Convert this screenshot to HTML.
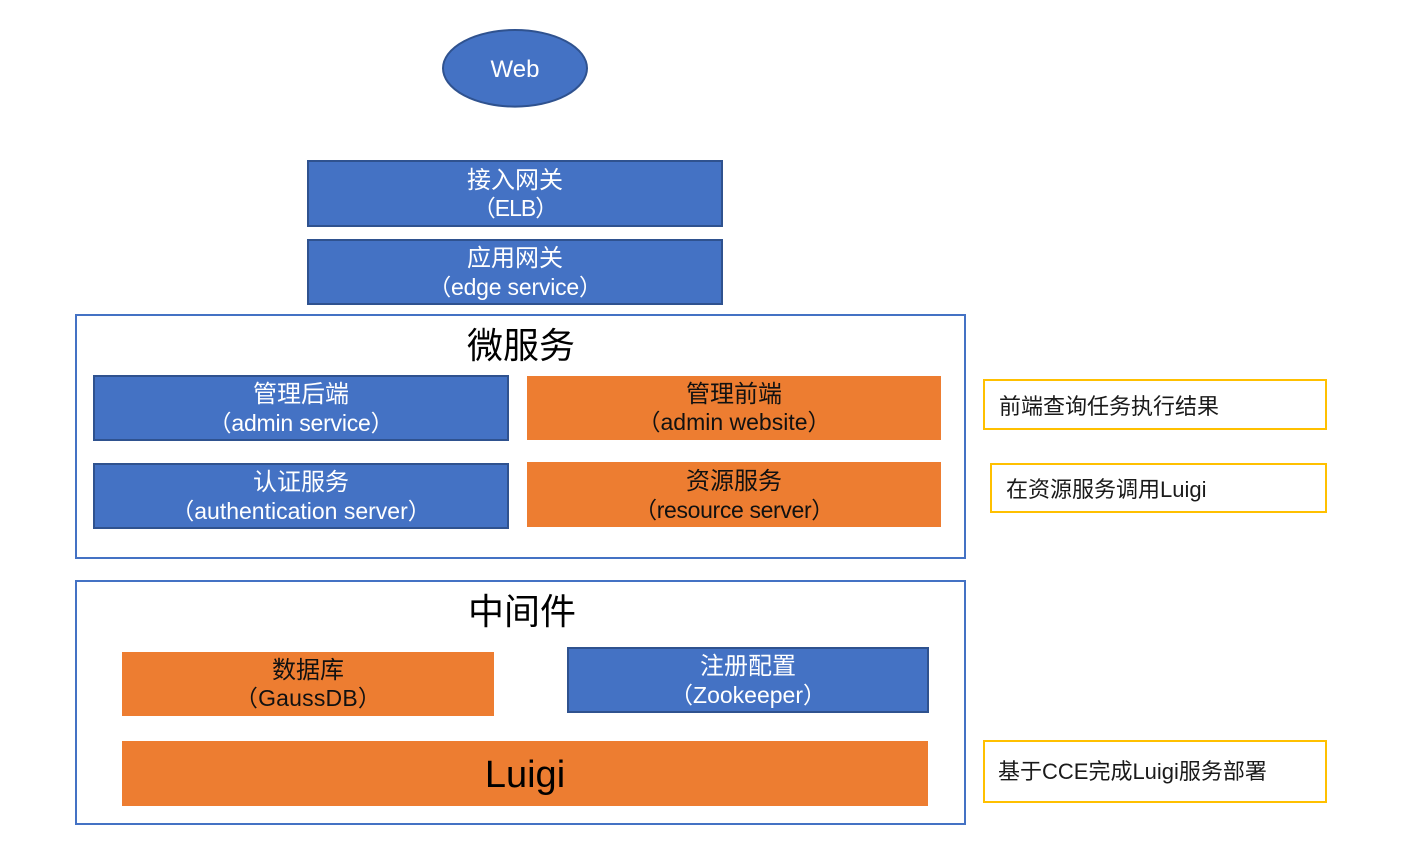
<!DOCTYPE html>
<html lang="zh-CN"><head><meta charset="utf-8"><title>Luigi 架构图</title>
<style>
html,body{margin:0;padding:0;background:#fff;width:1416px;height:858px;overflow:hidden}
body{position:relative;font-family:"Liberation Sans","Noto Sans CJK SC",sans-serif}
.b{position:absolute;box-sizing:border-box}
.blue{background:#4472C4;border:2px solid #2F528F}
.or{background:#ED7D31}
.out{border:2px solid #4472C4}
.y{border:2px solid #FFC000}
.t{position:absolute;white-space:nowrap;transform:translateX(-50%);font-size:24px;line-height:30px;color:#fff}
.l{font-size:23px}
.k{color:#111}
.n{position:absolute;white-space:nowrap;font-size:22px;line-height:30px;color:#1a1a1a}
.h{position:absolute;white-space:nowrap;transform:translateX(-50%);font-size:36px;line-height:44px;color:#000}
</style></head><body>
<svg class="b" style="left:0;top:0" width="1416" height="858"><ellipse cx="515" cy="68.3" rx="72" ry="38.3" fill="#4472C4" stroke="#2F528F" stroke-width="2"/></svg>
<div class="t" style="left:515px;top:55px">Web</div>

<div class="b blue" style="left:307px;top:160px;width:416px;height:67px"></div>
<div class="t" style="left:515px;top:166px">接入网关</div>
<div class="t l" style="left:515px;top:193px;letter-spacing:-1px">（ELB）</div>
<div class="b blue" style="left:307px;top:239px;width:416px;height:66px"></div>
<div class="t" style="left:515px;top:244px">应用网关</div>
<div class="t l" style="left:515px;top:272px;letter-spacing:-.2px">（edge service）</div>

<div class="b out" style="left:75px;top:314px;width:891px;height:245px"></div>
<div class="h" style="left:521px;top:324px">微服务</div>
<div class="b blue" style="left:93px;top:375px;width:416px;height:66px"></div>
<div class="t" style="left:301px;top:380px">管理后端</div>
<div class="t l" style="left:301px;top:408px;letter-spacing:-.2px">（admin service）</div>
<div class="b blue" style="left:93px;top:463px;width:416px;height:66px"></div>
<div class="t" style="left:301px;top:468px">认证服务</div>
<div class="t l" style="left:301px;top:496px">（authentication server）</div>
<div class="b or" style="left:527px;top:376px;width:414px;height:64px"></div>
<div class="t k" style="left:734px;top:380px">管理前端</div>
<div class="t k l" style="left:734px;top:407px">（admin website）</div>
<div class="b or" style="left:527px;top:462px;width:414px;height:65px"></div>
<div class="t k" style="left:734px;top:467px">资源服务</div>
<div class="t k l" style="left:734px;top:495px;letter-spacing:-.35px">（resource server）</div>

<div class="b out" style="left:75px;top:580px;width:891px;height:245px"></div>
<div class="h" style="left:522px;top:590px">中间件</div>
<div class="b or" style="left:122px;top:652px;width:372px;height:64px"></div>
<div class="t k" style="left:308px;top:656px">数据库</div>
<div class="t k l" style="left:308px;top:683px;letter-spacing:.2px">（GaussDB）</div>
<div class="b blue" style="left:567px;top:647px;width:362px;height:66px"></div>
<div class="t" style="left:748px;top:652px">注册配置</div>
<div class="t l" style="left:748px;top:680px">（Zookeeper）</div>
<div class="b or" style="left:122px;top:741px;width:806px;height:65px"></div>
<div class="h" style="left:525px;top:753px;font-size:38px">Luigi</div>

<div class="b y" style="left:983px;top:379px;width:344px;height:51px"></div>
<div class="n" style="left:999px;top:392px">前端查询任务执行结果</div>
<div class="b y" style="left:990px;top:463px;width:337px;height:50px"></div>
<div class="n" style="left:1006px;top:475px">在资源服务调用Luigi</div>
<div class="b y" style="left:983px;top:740px;width:344px;height:63px"></div>
<div class="n" style="left:998px;top:757px">基于CCE完成Luigi服务部署</div>
</body></html>
